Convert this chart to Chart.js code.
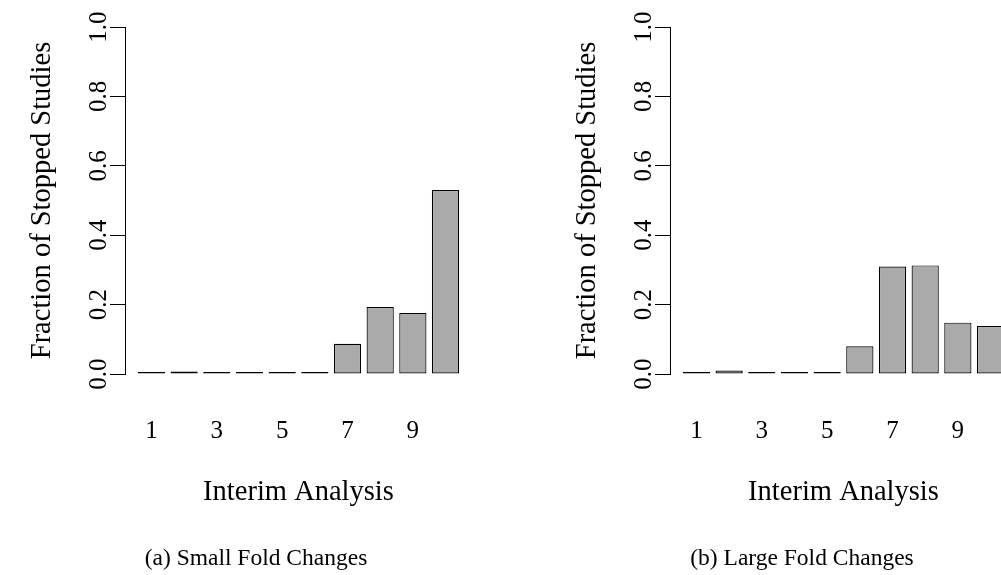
<!DOCTYPE html>
<html>
<head>
<meta charset="utf-8">
<script src="https://cdn.jsdelivr.net/npm/chart.js@4.4.1/dist/chart.umd.min.js"></script>
<style>
  html, body { margin: 0; padding: 0; background: #fff; }
  body { width: 1001px; height: 575px; overflow: hidden; position: relative; }
  .panel { position: absolute; top: 0; width: 500px; height: 575px; }
  .caption { position: absolute; top: 544px; width: 500px; text-align: center;
             font-family: 'Liberation Serif', serif; font-size: 23.5px; color: #000; white-space: nowrap; }
</style>
</head>
<body>
<div class="panel" style="left:0"><canvas id="small" width="500" height="575"></canvas></div>
<div class="panel" style="left:545px"><canvas id="large" width="500" height="575"></canvas></div>
<div class="caption" style="left:6px">(a) Small Fold Changes</div>
<div class="caption" style="left:552px">(b) Large Fold Changes</div>
<script>
// interim analyses 1..10
const analyses = [1, 2, 3, 4, 5, 6, 7, 8, 9, 10];
// fraction of stopped studies at each interim analysis
const smallFold = [0, 0.007, 0, 0, 0, 0.005, 0.087, 0.193, 0.176, 0.530];
const largeFold = [0, 0.010, 0, 0, 0.004, 0.080, 0.310, 0.313, 0.148, 0.138];
const yTicks = [0, 0.2, 0.4, 0.6, 0.8, 1.0];
const xTickLabels = [1, 3, 5, 7, 9];

// barplot() layout: width 1, space 0.2
const mids = analyses.map((a, i) => 1.2 * (i + 1) - 0.5);

const tickFont = { family: "'Liberation Serif', serif", size: 25 };
const titleFont = { family: "'Liberation Serif', serif", size: 28.5 };

function makeChart(id, values) {
  new Chart(document.getElementById(id), {
    type: 'bar',
    data: {
      datasets: [{
        data: values.map((v, i) => ({ x: mids[i], y: v })),
        backgroundColor: '#aaaaaa',
        borderColor: '#000',
        borderWidth: 1.2,
        borderSkipped: false,
        minBarLength: 2,
        barPercentage: 1 / 1.2,
        categoryPercentage: 1
      }]
    },
    options: {
      responsive: false,
      animation: false,
      layout: { padding: { left: 0, top: 27, right: 28, bottom: 51 } },
      plugins: { legend: { display: false }, tooltip: { enabled: false } },
      scales: {
        x: {
          type: 'linear',
          min: -0.272,
          max: 12.472,
          offset: false,
          grid: { display: false, drawTicks: false },
          border: { display: false },
          afterBuildTicks: s => { s.ticks = xTickLabels.map(l => ({ value: mids[analyses.indexOf(l)] })); },
          afterFit: s => { s.height = 150; },
          ticks: {
            font: tickFont, color: '#000', padding: 42, maxRotation: 0, autoSkip: false,
            callback: v => analyses[mids.indexOf(v)]
          },
          title: { display: true, text: 'Interim Analysis', font: titleFont, color: '#000', padding: { top: 0, bottom: 14 } }
        },
        y: {
          min: 0,
          max: 1,
          afterBuildTicks: s => { s.ticks = yTicks.map(v => ({ value: v })); },
          afterFit: s => { s.width = 125; },
          ticks: {
            font: tickFont, color: '#000', minRotation: 90, maxRotation: 90,
            crossAlign: 'center', padding: -5,
            callback: v => v.toFixed(1)
          },
          grid: { drawOnChartArea: false, tickLength: 15, color: '#000' },
          border: { color: '#000' },
          title: { display: true, text: 'Fraction of Stopped Studies', font: titleFont, color: '#000', padding: { top: 25, bottom: 0 } }
        }
      }
    }
  });
}

makeChart('small', smallFold);
makeChart('large', largeFold);
</script>
</body>
</html>
